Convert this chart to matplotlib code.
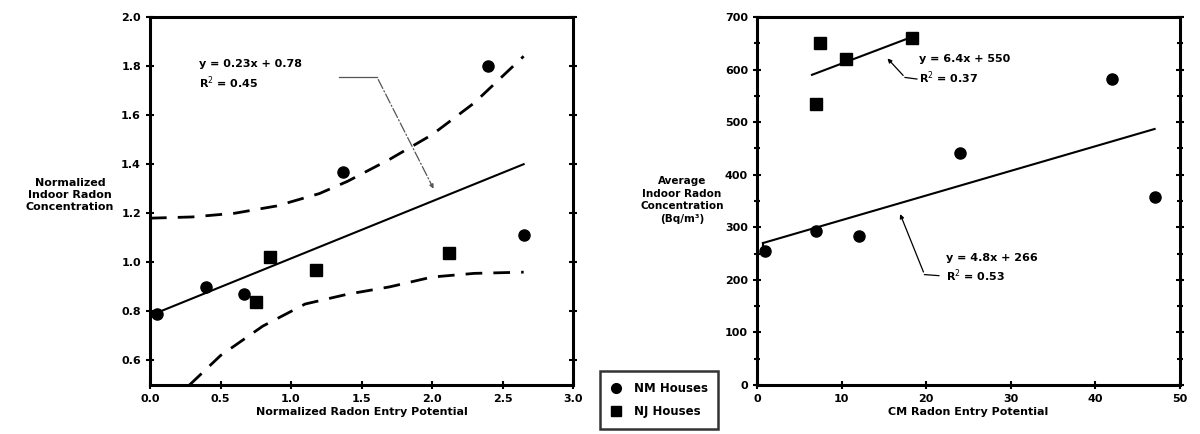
import matplotlib
matplotlib.use("Agg")
import matplotlib.pyplot as plt
from matplotlib.lines import Line2D
from matplotlib.ticker import MultipleLocator

plt.rcParams['font.family'] = ['DejaVu Sans']

# ---- Left panel data ----
nm_x_norm = [0.05, 0.40, 0.67, 1.37, 2.40, 2.65]
nm_y_norm = [0.79, 0.90, 0.87, 1.37, 1.80, 1.11]
nj_x_norm = [0.75, 0.85, 1.18, 2.12]
nj_y_norm = [0.84, 1.02, 0.97, 1.04]
fit_x_norm = [0.03, 2.65]
fit_y_norm = [0.79, 1.40]
upper_x = [0.0, 0.3, 0.6, 0.9, 1.2, 1.4, 1.7, 2.0, 2.3, 2.65]
upper_y = [1.18, 1.185, 1.20, 1.23, 1.28, 1.33, 1.42, 1.52, 1.65, 1.84]
lower_x = [0.28, 0.5, 0.8, 1.1, 1.4, 1.7, 2.0, 2.3, 2.65]
lower_y = [0.50, 0.62, 0.74, 0.83, 0.87, 0.90, 0.94, 0.955, 0.96]

# ---- Right panel data ----
nm_x_cm = [1.0, 7.0, 12.0, 24.0, 42.0, 47.0]
nm_y_cm = [255, 292, 283, 442, 582, 358]
nj_x_cm = [7.0, 7.5, 10.5, 18.3]
nj_y_cm = [535, 650, 620, 660]
nm_fit_x = [0.7, 47.0]
nm_fit_y = [270, 487]
nj_fit_x = [6.5, 18.3]
nj_fit_y = [590, 662]

W, H = 1200, 434
fig = plt.figure(figsize=(W / 100, H / 100), dpi=100)

def px_axes(l, r, t, b):
    return fig.add_axes([l / W, 1 - b / H, (r - l) / W, (b - t) / H])

ax1 = px_axes(150, 573, 17, 385)
ax2 = px_axes(757, 1180, 17, 385)

msize = 8

def style(ax):
    for s in ax.spines.values():
        s.set_linewidth(2.2)
    ax.tick_params(which='both', direction='inout', top=False, right=True,
                   labelsize=8, width=1.5)
    ax.tick_params(which='major', length=6)
    ax.tick_params(which='minor', length=5)
    for lab in ax.get_xticklabels() + ax.get_yticklabels():
        lab.set_fontweight('bold')

# Left panel
ax1.plot(fit_x_norm, fit_y_norm, color='black', lw=1.5)
ax1.plot(upper_x, upper_y, color='black', lw=2, dashes=(6, 4))
ax1.plot(lower_x, lower_y, color='black', lw=2, dashes=(6, 4))
ax1.plot(nm_x_norm, nm_y_norm, 'o', color='black', ms=msize)
ax1.plot(nj_x_norm, nj_y_norm, 's', color='black', ms=msize)
ax1.set_xlim(0, 3.0)
ax1.set_ylim(0.5, 2.0)
ax1.set_yticks([0.6, 0.8, 1.0, 1.2, 1.4, 1.6, 1.8, 2.0])
ax1.set_xticks([0, 0.5, 1.0, 1.5, 2.0, 2.5, 3.0])
ax1.set_xticklabels(['0.0', '0.5', '1.0', '1.5', '2.0', '2.5', '3.0'])
style(ax1)
ax1.set_xlabel('Normalized Radon Entry Potential', fontsize=8, fontweight='bold', labelpad=2)
fig.text(70 / W, 1 - 195 / H, 'Normalized\nIndoor Radon\nConcentration',
         ha='center', va='center', fontsize=8, fontweight='bold', linespacing=1.3)
ax1.text(0.35, 1.83, 'y = 0.23x + 0.78\nR$^2$ = 0.45', fontsize=8, fontweight='bold',
         va='top', linespacing=1.4)
ax1.plot([1.34, 1.61], [1.755, 1.755], color='#555555', lw=0.9)
ax1.annotate('', xy=(2.02, 1.29), xytext=(1.61, 1.755),
             arrowprops=dict(arrowstyle='-|>', color='#555555', lw=0.9,
                             linestyle=(0, (8, 2, 1, 2)), mutation_scale=6))

# Right panel
ax2.plot(nm_fit_x, nm_fit_y, color='black', lw=1.5)
ax2.plot([0.7, 0.7], [255, 270], color='black', lw=1.5)
ax2.plot(nj_fit_x, nj_fit_y, color='black', lw=1.5)
ax2.plot(nm_x_cm, nm_y_cm, 'o', color='black', ms=msize)
ax2.plot(nj_x_cm, nj_y_cm, 's', color='black', ms=msize)
ax2.set_xlim(0, 50)
ax2.set_ylim(0, 700)
ax2.xaxis.set_major_locator(MultipleLocator(10))
ax2.yaxis.set_major_locator(MultipleLocator(100))
ax2.yaxis.set_minor_locator(MultipleLocator(50))
style(ax2)
ax2.set_xlabel('CM Radon Entry Potential', fontsize=8, fontweight='bold', labelpad=2)
fig.text(682 / W, 1 - 200 / H, 'Average\nIndoor Radon\nConcentration\n(Bq/m³)',
         ha='center', va='center', fontsize=7.5, fontweight='bold', linespacing=1.3)
ax2.text(19.2, 630, 'y = 6.4x + 550\nR$^2$ = 0.37', fontsize=8, fontweight='bold',
         va='top', linespacing=1.4)
ax2.plot([17.5, 18.9], [585, 582], color='black', lw=0.9)
ax2.annotate('', xy=(15.2, 625), xytext=(17.5, 585),
             arrowprops=dict(arrowstyle='-|>', color='black', lw=0.9, mutation_scale=6))
ax2.text(22.3, 252, 'y = 4.8x + 266\nR$^2$ = 0.53', fontsize=8, fontweight='bold',
         va='top', linespacing=1.4)
ax2.plot([19.8, 21.5], [210, 208], color='black', lw=0.9)
ax2.annotate('', xy=(16.8, 330), xytext=(19.8, 210),
             arrowprops=dict(arrowstyle='-|>', color='black', lw=0.9, mutation_scale=6))

handles = [Line2D([], [], marker='o', color='black', ls='none', ms=7, label='NM Houses'),
           Line2D([], [], marker='s', color='black', ls='none', ms=7, label='NJ Houses')]
leg = fig.legend(handles=handles, loc='center', bbox_to_anchor=(659 / W, 1 - 400 / H),
                 frameon=True, fancybox=False, edgecolor='black', fontsize=8.5,
                 handletextpad=1.0, borderpad=0.9, labelspacing=0.9, handlelength=1.0,
                 borderaxespad=0)
leg.get_frame().set_linewidth(1.8)
for t in leg.get_texts():
    t.set_fontweight('bold')

fig.savefig('out.png', dpi=100)
